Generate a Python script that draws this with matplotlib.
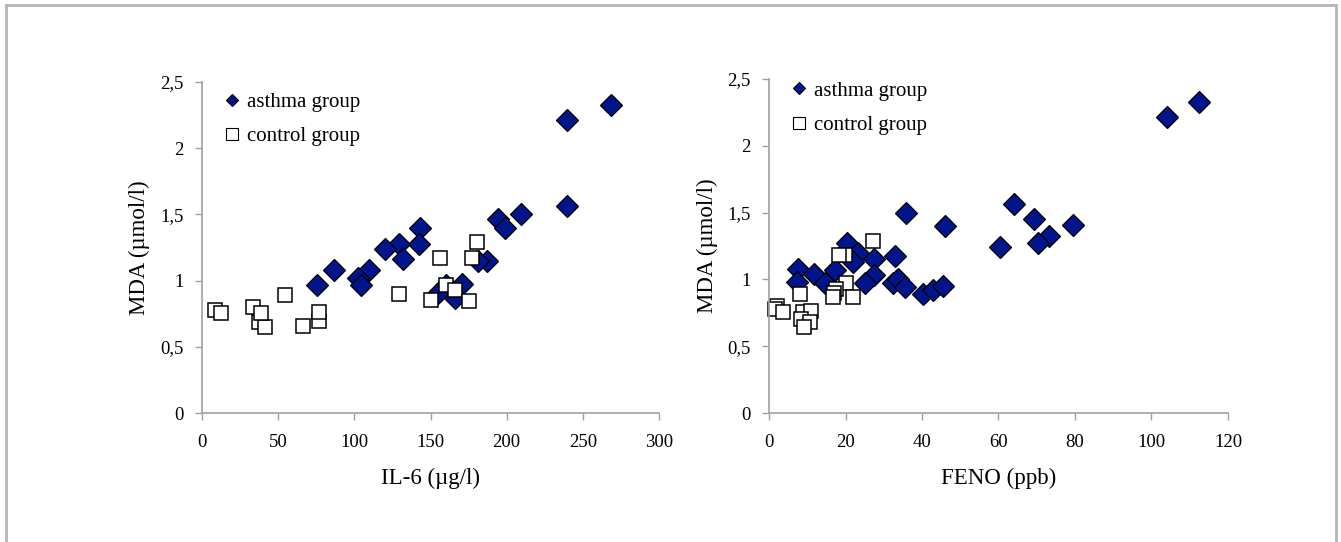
import matplotlib
matplotlib.use("Agg")
import matplotlib.pyplot as plt
from matplotlib.lines import Line2D
from matplotlib.patches import Rectangle
from matplotlib.ticker import FuncFormatter

plt.rcParams["font.family"] = "Liberation Serif"

# IL-6 panel
asthma_il6_x = [268.5, 239.4, 239.4, 209.3, 194, 198.8, 143.4, 142.4, 129.5, 120.3, 132,
                109.3, 86.8, 102.6, 104.7, 75.7, 187.4, 181, 170.5, 160.5, 154, 166]
asthma_il6_y = [2.33, 2.21, 1.56, 1.505, 1.465, 1.40, 1.40, 1.28, 1.28, 1.24, 1.166,
                1.08, 1.08, 1.02, 0.964, 0.97, 1.15, 1.15, 0.975, 0.97, 0.90, 0.87]
control_il6_x = [8.5, 12.5, 33.7, 37.4, 41.3, 39, 54.7, 66.3, 77, 77, 129.2,
                 150.5, 156.5, 160.5, 166.3, 175.5, 177.5, 180.5]
control_il6_y = [0.775, 0.755, 0.80, 0.687, 0.65, 0.755, 0.889, 0.657, 0.695, 0.763, 0.896,
                 0.855, 1.172, 0.965, 0.93, 0.845, 1.172, 1.29]

# FENO panel
asthma_feno_x = [112.5, 104.1, 64, 69.2, 79.4, 73.2, 70.2, 60.3, 35.8, 46.1, 20.5, 23.3, 22, 27.5,
                 33, 27.5, 25.1, 32.3, 33.8, 35.6, 40.3, 43, 45.6, 7.7, 7.2, 11.8, 14.6, 17.3]
asthma_feno_y = [2.325, 2.213, 1.563, 1.453, 1.406, 1.328, 1.271, 1.244, 1.498, 1.396, 1.275, 1.195,
                 1.133, 1.15, 1.178, 1.033, 0.976, 0.976, 1.0, 0.941, 0.891, 0.921, 0.951,
                 1.076, 0.983, 1.039, 0.976, 1.071]
control_feno_x = [27.3, 19.9, 18.4, 20.1, 17.5, 17, 16.8, 22, 8.1, 2.2, 1.6, 3.6, 8.8, 10.9,
                  8.3, 10.7, 9.2]
control_feno_y = [1.288, 1.183, 1.183, 0.976, 0.926, 0.896, 0.871, 0.866, 0.889, 0.80, 0.776,
                  0.754, 0.754, 0.764, 0.70, 0.684, 0.646]

y_ticks = [0, 0.5, 1, 1.5, 2, 2.5]

NAVY = "#00148c"
GREY = "#a0a0a0"

fig = plt.figure(figsize=(13.41, 5.42), dpi=100)

# outer frame
fig.patches.append(Rectangle((6 / 1341, -0.1), 1330 / 1341, 1.1 - 5 / 542,
                             transform=fig.transFigure, fill=False,
                             edgecolor="#b4b4b4", linewidth=2))


def comma_fmt(v, pos):
    s = ("%g" % v).replace(".", ",")
    return s


def setup_axes(ax, xmax, xstep, xlabel):
    ax.set_xlim(0, xmax)
    ax.set_ylim(0, 2.5)
    ax.set_xticks(range(0, xmax + 1, xstep))
    ax.set_yticks(y_ticks)
    ax.yaxis.set_major_formatter(FuncFormatter(comma_fmt))
    for side in ["top", "right"]:
        ax.spines[side].set_visible(False)
    for side in ["left", "bottom"]:
        ax.spines[side].set_color(GREY)
        ax.spines[side].set_linewidth(1.2)
    ax.tick_params(direction="out", length=5, width=1, color=GREY,
                   labelsize=13.5, labelcolor="black")
    ax.tick_params(axis="y", pad=8)
    ax.tick_params(axis="x", pad=10)
    ax.set_xlabel(xlabel, fontsize=16.5, labelpad=12)
    ax.set_ylabel("MDA (µmol/l)", fontsize=16.5)


def draw_panel(ax, ax_x, ax_y, cx, cy):
    ax.plot(ax_x, ax_y, linestyle="none", marker="D", markersize=11,
            markerfacecolor=NAVY, markeredgecolor="black", markeredgewidth=0.9,
            clip_on=False)
    ax.plot(cx, cy, linestyle="none", marker="s", markersize=10,
            markerfacecolor="white", markeredgecolor="black", markeredgewidth=1.1,
            clip_on=False)


handles = [
    Line2D([], [], linestyle="none", marker="D", markersize=6.5,
           markerfacecolor=NAVY, markeredgecolor="black", markeredgewidth=0.8),
    Line2D([], [], linestyle="none", marker="s", markersize=8.5,
           markerfacecolor="white", markeredgecolor="black", markeredgewidth=0.8),
]
labels = ["asthma group", "control group"]

ax1 = fig.add_axes([202 / 1341, 129 / 542, 457 / 1341, 331 / 542])
draw_panel(ax1, asthma_il6_x, asthma_il6_y, control_il6_x, control_il6_y)
setup_axes(ax1, 300, 50, "IL-6 (µg/l)")
ax1.yaxis.set_label_coords(-0.114, 0.5)
ax1.legend(handles, labels, loc="center left", bbox_to_anchor=(0.03, 0.887),
           frameon=False, fontsize=15, handlelength=0.8, handletextpad=0.3,
           labelspacing=0.72, borderaxespad=0)

ax2 = fig.add_axes([769 / 1341, 129 / 542, 459 / 1341, 334 / 542])
draw_panel(ax2, asthma_feno_x, asthma_feno_y, control_feno_x, control_feno_y)
setup_axes(ax2, 120, 20, "FENO (ppb)")
ax2.yaxis.set_label_coords(-0.111, 0.5)
ax2.legend(handles, labels, loc="center left", bbox_to_anchor=(0.029, 0.913),
           frameon=False, fontsize=15, handlelength=0.8, handletextpad=0.3,
           labelspacing=0.72, borderaxespad=0)

fig.savefig("out.png", dpi=100)
